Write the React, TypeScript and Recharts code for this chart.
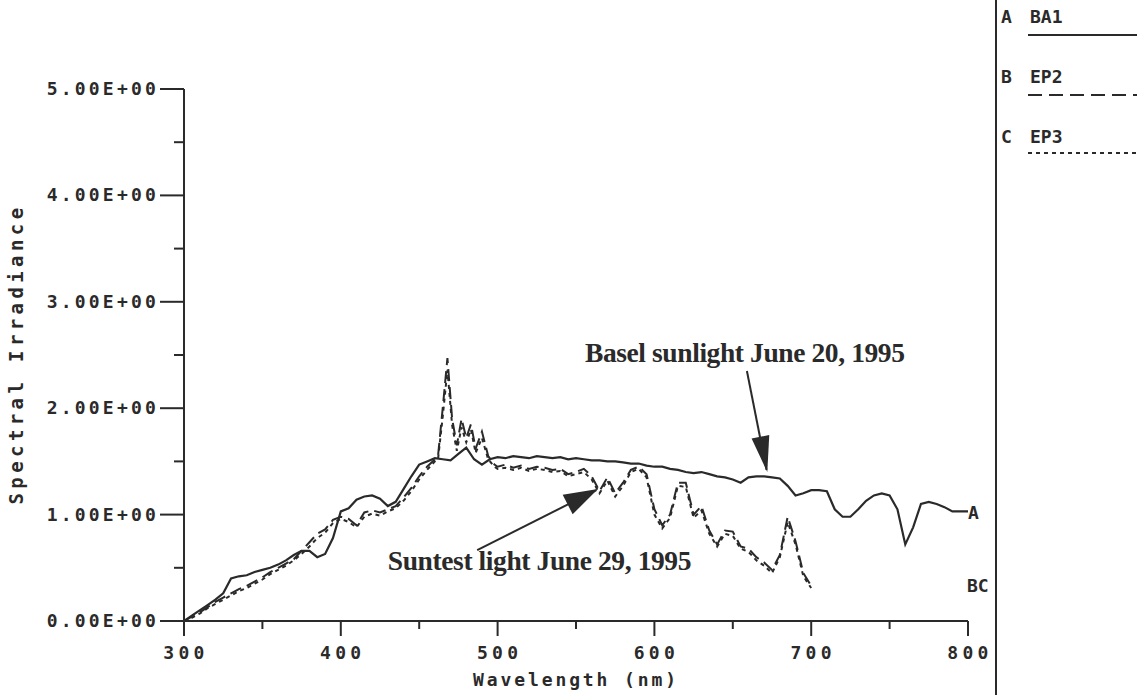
import React from "react";
import {
  LineChart,
  Line,
  XAxis,
  YAxis,
  ReferenceLine,
  ReferenceDot,
  Customized,
} from "recharts";

// Basel sunlight, 5 nm steps
const baselNm = [
  300, 305, 310, 315, 320, 325, 330, 335, 340, 345,
  350, 355, 360, 365, 370, 375, 380, 385, 390, 395,
  400, 405, 410, 415, 420, 425, 430, 435, 440, 445,
  450, 455, 460, 465, 470, 475, 480, 485, 490, 495,
  500, 505, 510, 515, 520, 525, 530, 535, 540, 545,
  550, 555, 560, 565, 570, 575, 580, 585, 590, 595,
  600, 605, 610, 615, 620, 625, 630, 635, 640, 645,
  650, 655, 660, 665, 670, 675, 680, 685, 690, 695,
  700, 705, 710, 715, 720, 725, 730, 735, 740, 745,
  750, 755, 760, 765, 770, 775, 780, 785, 790, 795,
  800,
];
const baselBA1 = [
  0, 0.05, 0.1, 0.15, 0.2, 0.26, 0.4, 0.42, 0.43, 0.46,
  0.48, 0.5, 0.53, 0.57, 0.62, 0.66, 0.66, 0.6, 0.63, 0.78,
  1.03, 1.06, 1.14, 1.17, 1.18, 1.15, 1.08, 1.12, 1.24, 1.36,
  1.47, 1.5, 1.53, 1.52, 1.51, 1.57, 1.63, 1.52, 1.47, 1.52,
  1.54, 1.53, 1.55, 1.54, 1.53, 1.55, 1.54, 1.53, 1.54, 1.52,
  1.53, 1.52, 1.51, 1.51, 1.5, 1.5, 1.49, 1.48, 1.48, 1.46,
  1.45, 1.45, 1.43, 1.42, 1.4, 1.39, 1.4, 1.38, 1.36, 1.35,
  1.33, 1.3, 1.35, 1.36, 1.36, 1.35, 1.34, 1.27, 1.18, 1.2,
  1.23, 1.23, 1.22, 1.05, 0.98, 0.98, 1.05, 1.13, 1.18, 1.2,
  1.18, 1.05, 0.72, 0.88, 1.1, 1.12, 1.1, 1.07, 1.03, 1.03,
  1.03,
];

// Suntest lamp, denser around the 470 nm peak
const suntestNm = [
  300, 305, 310, 315, 320, 325, 330, 335, 340, 345,
  350, 355, 360, 365, 370, 375, 380, 385, 390, 395,
  400, 405, 410, 415, 420, 425, 430, 435, 440, 445,
  450, 455, 460,
  462, 465, 468, 471, 474, 477, 480, 483, 486, 490, 494, 498,
  500, 505, 510, 515, 520, 525, 530, 535, 540, 545,
  550, 555, 560, 565, 570, 575, 580, 585, 590, 595,
  600, 605, 610, 615, 620, 625, 630, 635, 640, 645,
  650, 655, 660, 665, 670, 675, 680, 685, 690, 695,
  700,
];
const suntestEP2 = [
  0, 0.04, 0.08, 0.13, 0.18, 0.22, 0.26, 0.3, 0.33, 0.37,
  0.41, 0.46, 0.5, 0.54, 0.58, 0.66, 0.74, 0.82, 0.86, 0.95,
  0.98, 0.96, 0.9, 1.02, 1.04, 1.02, 1.05, 1.08, 1.16, 1.25,
  1.36, 1.45, 1.52,
  1.55, 2.0, 2.47, 1.9, 1.65, 1.9, 1.72, 1.85, 1.62, 1.78, 1.55, 1.47,
  1.45, 1.47, 1.44, 1.46, 1.43, 1.45, 1.44, 1.42, 1.43, 1.38,
  1.4, 1.43, 1.36, 1.22, 1.35, 1.2, 1.3, 1.42, 1.45, 1.38,
  1.05, 0.9, 1.0, 1.3, 1.3, 1.0, 1.08, 0.85, 0.72, 0.85,
  0.84, 0.7, 0.68, 0.6, 0.55, 0.48, 0.62, 0.98, 0.75, 0.45,
  0.33,
];
const suntestEP3 = [
  0, 0.03, 0.07, 0.12, 0.16, 0.2, 0.24, 0.28, 0.31, 0.35,
  0.39, 0.44, 0.48, 0.52, 0.57, 0.63, 0.7, 0.78, 0.83, 0.92,
  0.96, 0.93, 0.88, 0.98, 1.01, 0.99, 1.03, 1.06, 1.13, 1.22,
  1.33, 1.42, 1.5,
  1.52, 1.92, 2.36, 1.84, 1.6, 1.82, 1.68, 1.8, 1.58, 1.72, 1.52, 1.45,
  1.43, 1.44, 1.42, 1.44, 1.41, 1.43, 1.42, 1.4, 1.41, 1.36,
  1.38, 1.4, 1.33, 1.2, 1.32, 1.17, 1.27, 1.4, 1.43, 1.35,
  1.0, 0.87, 0.97, 1.27, 1.26, 0.97, 1.04, 0.82, 0.7, 0.82,
  0.8, 0.68, 0.65, 0.57, 0.52, 0.45, 0.6, 0.93, 0.72, 0.42,
  0.31,
];

const xTicks = [300, 350, 400, 450, 500, 550, 600, 650, 700, 750, 800];
const xMajor = [300, 400, 500, 600, 700, 800];
const yTicks = [0, 0.5, 1, 1.5, 2, 2.5, 3, 3.5, 4, 4.5, 5];
const yTickLabels: Record<number, string> = {
  0: "0.00E+00",
  1: "1.00E+00",
  2: "2.00E+00",
  3: "3.00E+00",
  4: "4.00E+00",
  5: "5.00E+00",
};

const legendItems = [
  { code: "A", name: "BA1", dash: undefined as string | undefined },
  { code: "B", name: "EP2", dash: "14 7" },
  { code: "C", name: "EP3", dash: "4 4" },
];

const W = 1137;
const H = 695;
const PLOT_L = 184;
const PLOT_R = 968;
const PLOT_T = 89;
const PLOT_B = 621;

const INK = "#2a2a2a";
const MONO = "'DejaVu Sans Mono', 'Liberation Mono', monospace";
const SERIF = "'Liberation Serif', 'Times New Roman', serif";

const toPoints = (xs: number[], ys: number[]) =>
  xs.map((x, i) => ({ x, y: ys[i] }));

const baselData = toPoints(baselNm, baselBA1);
const ep2Data = toPoints(suntestNm, suntestEP2);
const ep3Data = toPoints(suntestNm, suntestEP3);

const monoText = {
  fontFamily: MONO,
  fontWeight: 700,
  fill: INK,
};

const YTick = (props: any) => {
  const { y, payload } = props;
  const v = payload.value;
  const major = Number.isInteger(v);
  return (
    <g>
      <line
        x1={PLOT_L - (major ? 24 : 10)}
        x2={PLOT_L}
        y1={y}
        y2={y}
        stroke={INK}
        strokeWidth={2}
      />
      {major && (
        <text
          x={PLOT_L - 25}
          y={y + 6}
          textAnchor="end"
          fontSize={18}
          letterSpacing={3.2}
          {...monoText}
        >
          {yTickLabels[v]}
        </text>
      )}
    </g>
  );
};

const XTick = (props: any) => {
  const { x, payload } = props;
  const v = payload.value;
  const major = xMajor.includes(v);
  return (
    <g>
      <line
        x1={x}
        x2={x}
        y1={PLOT_B}
        y2={PLOT_B + (major ? 15 : 8)}
        stroke={INK}
        strokeWidth={2}
      />
      {major && (
        <text
          x={x + 2}
          y={PLOT_B + 38}
          textAnchor="middle"
          fontSize={18}
          letterSpacing={4.3}
          {...monoText}
        >
          {v}
        </text>
      )}
    </g>
  );
};

const Decorations = () => (
  <g>
    <line x1={996} x2={996} y1={0} y2={H} stroke={INK} strokeWidth={2} />
    {legendItems.map((it, i) => {
      const top = 23 + i * 60;
      return (
        <g key={it.code}>
          <text x={1001} y={top} fontSize={18} {...monoText}>
            {it.code}
          </text>
          <text x={1030} y={top} fontSize={18} {...monoText}>
            {it.name}
          </text>
          <line
            x1={1028}
            x2={W}
            y1={top + 12 + (i === 2 ? -2 : 0)}
            y2={top + 12 + (i === 2 ? -2 : 0)}
            stroke={INK}
            strokeWidth={2}
            strokeDasharray={it.dash}
          />
        </g>
      );
    })}
    <text x={968} y={519} fontSize={18} {...monoText}>
      A
    </text>
    <text x={967} y={592} fontSize={18} {...monoText}>
      BC
    </text>
    <text
      x={PLOT_L + (PLOT_R - PLOT_L) / 2}
      y={686}
      textAnchor="middle"
      fontSize={18}
      letterSpacing={2.9}
      {...monoText}
    >
      Wavelength (nm)
    </text>
    <text
      transform="translate(23 354) rotate(-90)"
      textAnchor="middle"
      fontSize={19}
      letterSpacing={4.4}
      {...monoText}
    >
      Spectral Irradiance
    </text>
  </g>
);

const arrowHead = (angle: number, halfWidth: number, depth: number) =>
  (p: any) => (
    <polygon
      points={`0,0 ${-halfWidth},${-depth} ${halfWidth},${-depth}`}
      transform={`translate(${p.cx} ${p.cy}) rotate(${angle})`}
      fill={INK}
    />
  );

const noteText = (label: string) => (p: any) => (
  <text
    x={p.cx}
    y={p.cy}
    fontFamily={SERIF}
    fontWeight={700}
    fontSize={27.5}
    letterSpacing={-0.4}
    fill={INK}
  >
    {label}
  </text>
);

export default function App() {
  return (
    <div style={{ width: W, height: H, background: "#fff" }}>
      <style>{"body{margin:0;background:#fff}"}</style>
      <LineChart
        width={W}
        height={H}
        margin={{ top: PLOT_T, right: W - PLOT_R, bottom: 0, left: 0 }}
      >
        <XAxis
          dataKey="x"
          type="number"
          domain={[300, 800]}
          ticks={xTicks}
          allowDataOverflow
          height={H - PLOT_B}
          axisLine={{ stroke: INK, strokeWidth: 2 }}
          tickLine={false}
          tickSize={0}
          tick={<XTick />}
          interval={0}
        />
        <YAxis
          type="number"
          domain={[0, 5]}
          ticks={yTicks}
          width={PLOT_L}
          axisLine={{ stroke: INK, strokeWidth: 2 }}
          tickLine={false}
          tickSize={0}
          tick={<YTick />}
          interval={0}
        />
        <Line
          data={baselData}
          dataKey="y"
          type="linear"
          stroke={INK}
          strokeWidth={2.2}
          dot={false}
          isAnimationActive={false}
        />
        <Line
          data={ep2Data}
          dataKey="y"
          type="linear"
          stroke={INK}
          strokeWidth={2}
          strokeDasharray="12 6"
          dot={false}
          isAnimationActive={false}
        />
        <Line
          data={ep3Data}
          dataKey="y"
          type="linear"
          stroke={INK}
          strokeWidth={2}
          strokeDasharray="4 4"
          dot={false}
          isAnimationActive={false}
        />
        <ReferenceLine
          segment={[
            { x: 659, y: 2.35 },
            { x: 671.5, y: 1.42 },
          ]}
          stroke={INK}
          strokeWidth={2}
        />
        <ReferenceDot x={672} y={1.4} shape={arrowHead(-11, 9, 36)} />
        <ReferenceLine
          segment={[
            { x: 487, y: 0.667 },
            { x: 563, y: 1.23 },
          ]}
          stroke={INK}
          strokeWidth={2}
        />
        <ReferenceDot x={564} y={1.24} shape={arrowHead(-117, 11, 34)} />
        <ReferenceDot
          x={555.7}
          y={2.434}
          shape={noteText("Basel sunlight June 20, 1995")}
        />
        <ReferenceDot
          x={430}
          y={0.479}
          shape={noteText("Suntest light June 29, 1995")}
        />
        <Customized component={<Decorations />} />
      </LineChart>
    </div>
  );
}
